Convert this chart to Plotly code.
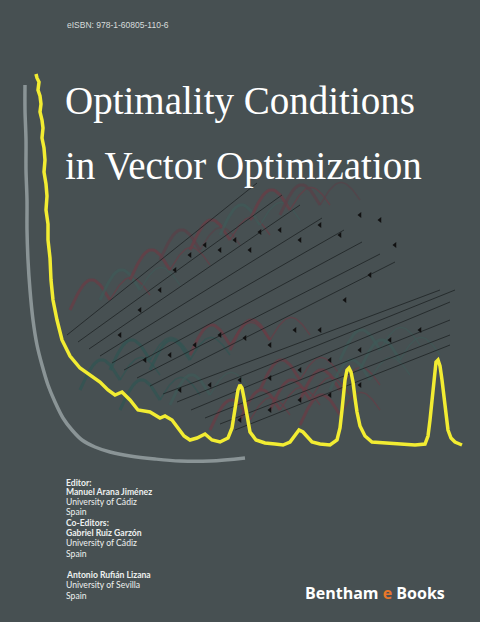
import plotly.graph_objects as go
import numpy as np

W, H = 480, 622
BG = "#475052"

yellow_x = [36,37,39,38,40,41,40,42,43,42,44,45,44,46,47,46,48,48,50,51,53,57,62,70,80,95,100,108,115,122,130,138,150,160,165,172,178,184,190,197,205,212,220,228,232,234,236,238,240,242,244,246,248,250,256,265,275,283,290,295,299,303,307,312,320,330,337,340,342,343,345,347,349,351,353,355,357,360,365,372,385,400,415,425,428,430,432,434,436,438,440,442,444,446,448,451,455,462]
yellow_y = [74,78,82,90,96,104,112,120,128,138,148,160,172,184,196,210,224,240,258,280,300,320,340,356,368,378,382,390,395,392,400,410,412,418,416,420,428,436,440,438,434,440,442,438,428,414,400,390,385,388,398,410,422,432,440,443,444,445,442,436,430,432,436,442,444,445,440,428,410,396,380,370,368,372,382,398,412,426,436,442,443,444,445,444,436,420,398,380,362,360,366,380,398,415,430,438,442,445]

gray_x = [25,25,26,26,27,27,28,30,33,37,42,48,55,63,72,82,95,110,130,155,180,210,245]
gray_y = [85,110,140,170,200,230,260,290,320,345,365,385,402,418,430,440,447,452,456,459,461,461,458]

line_x0 = [67,78,89,100,112,124,137,150,163,177,191,205,220,235]
line_y0 = [335,342,349,356,363,370,378,386,394,402,410,418,424,430]
line_x1 = [257,282,300,322,344,362,380,395,440,455,450,450,450,450]
line_y1 = [183,195,205,218,230,242,254,262,290,290,302,320,335,345]

arc_cx = [110,140,170,200,230,260,290,320,150,190,230,270,300,340,370,400,250,280,310,340,120,160,210,380]
arc_cy = [300,290,270,250,240,225,210,205,360,360,345,340,380,390,380,360,420,410,400,415,380,400,395,350]
arc_col = ["#6b3c45","#3f5a58","#6b3c45","#5a4048","#6b3c45","#3f5a58","#6b3c45","#5a4048",
           "#2f5552","#2f5552","#6b3c45","#6b3c45","#6b3c45","#6b3c45","#3f5a58","#3f5a58",
           "#6b3c45","#6b3c45","#6b3c45","#6b3c45","#2f5552","#2f5552","#3f5a58","#3f5a58"]

arrow_x = [120,140,160,175,190,205,220,235,250,260,280,300,320,340,360,380,145,170,195,220,245,270,295,320,345,370,395,180,210,240,270,300,330,360,390,420,240,270,300,330,360]
arrow_y = [335,310,290,270,255,245,250,240,250,232,230,240,225,235,215,220,360,355,345,335,338,345,330,330,300,275,245,390,385,380,378,370,360,350,340,330,420,410,400,395,385]

fig = go.Figure()

t = np.linspace(0, 1, 25)
for cx, cy, c in zip(arc_cx, arc_cy, arc_col):
    fig.add_trace(go.Scatter(x=cx - 40 * t, y=cy - 25 * np.sin(t * np.pi) + 10 * t, mode="lines",
                             line=dict(color=c, width=3), opacity=0.7, hoverinfo="skip"))
    fig.add_trace(go.Scatter(x=cx + 40 * t, y=cy - 20 * np.sin(t * np.pi) - 5 * t, mode="lines",
                             line=dict(color=c, width=1.5), opacity=0.6, hoverinfo="skip"))

for x0, y0, x1, y1 in zip(line_x0, line_y0, line_x1, line_y1):
    fig.add_trace(go.Scatter(x=[x0, x1], y=[y0, y1], mode="lines", line=dict(color="#1e2324", width=0.8), hoverinfo="skip"))

fig.add_trace(go.Scatter(x=arrow_x, y=arrow_y, mode="markers",
                         marker=dict(symbol="triangle-left", size=5, color="#111"), hoverinfo="skip"))

fig.add_trace(go.Scatter(x=gray_x, y=gray_y, mode="lines", line=dict(color="#8a9496", width=3.5, shape="spline"), hoverinfo="skip"))
fig.add_trace(go.Scatter(x=yellow_x, y=yellow_y, mode="lines", line=dict(color="#f2ec32", width=3.5), hoverinfo="skip"))

ann = []
ann.append(dict(x=65, y=25, text="eISBN: 978-1-60805-110-6", font=dict(family="Liberation Sans", size=8.5, color="#d8dcdc")))
ann.append(dict(x=63, y=101, text="Optimality Conditions", font=dict(family="Liberation Serif", size=39, color="white")))
ann.append(dict(x=63, y=166, text="in Vector Optimization", font=dict(family="Liberation Serif", size=39, color="white")))

lines = [("Editor:", True, 483), ("Manuel Arana Jiménez", True, 492), ("University of Cádiz", False, 502), ("Spain", False, 512),
         ("Co-Editors:", True, 523), ("Gabriel Ruiz Garzón", True, 533), ("University of Cádiz", False, 543), ("Spain", False, 554),
         ("Antonio Rufián Lizana", True, 575), ("University of Sevilla", False, 585), ("Spain", False, 596)]
for txt, b, y in lines:
    ann.append(dict(x=64, y=y, text=("<b>%s</b>" % txt) if b else txt,
                    font=dict(family="Lato", size=8.6, color="#eef0f0")))
ann.append(dict(x=303, y=593, text="<b>Bentham <span style='color:#e8772a'>e</span> Books</b>",
                font=dict(family="Open Sans", size=16, color="white")))
for a in ann:
    a.update(xref="x", yref="y", showarrow=False, xanchor="left", yanchor="middle")

fig.update_layout(width=W, height=H, margin=dict(l=0, r=0, t=0, b=0),
                  paper_bgcolor=BG, plot_bgcolor=BG, showlegend=False, annotations=ann,
                  xaxis=dict(range=[0, W], visible=False, fixedrange=True),
                  yaxis=dict(range=[H, 0], visible=False, fixedrange=True))
fig.write_html("out.html", config={"displayModeBar": False})
with open("out.html", encoding="utf-8") as f:
    html = f.read()
html = html.replace("<head>", "<head><style>html,body{margin:0;padding:0;background:%s;}</style>" % BG, 1)
with open("out.html", "w", encoding="utf-8") as f:
    f.write(html)
